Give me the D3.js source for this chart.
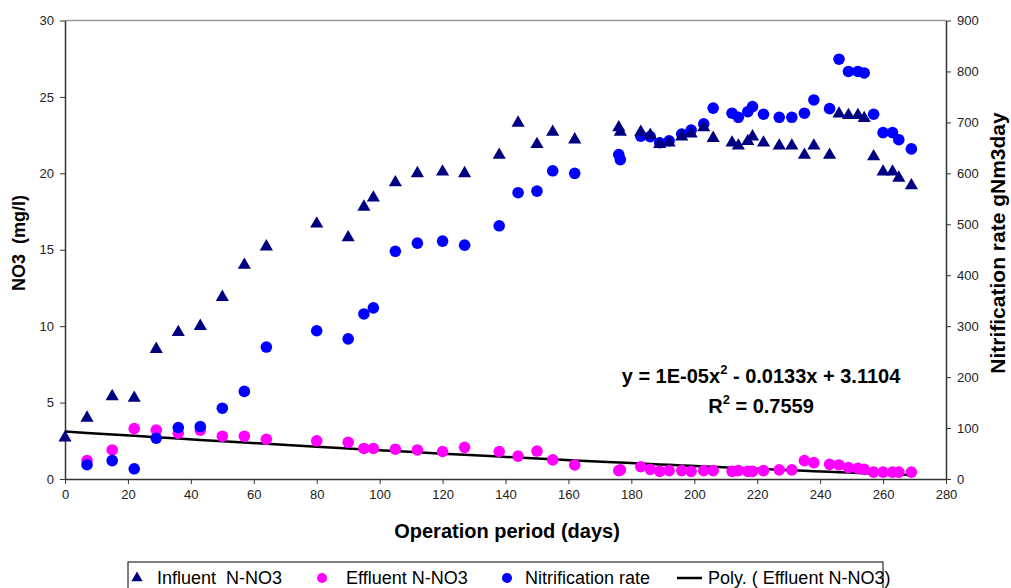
<!DOCTYPE html>
<html>
<head>
<meta charset="utf-8">
<script src="https://cdn.jsdelivr.net/npm/d3@7"></script>
<style>
  body { margin: 0; background: #fff; }
  svg { font-family: "Liberation Sans", Arial, sans-serif; }
  .axis path, .axis line { stroke: #333; }
  .axis text { font-size: 13px; fill: #222; }
</style>
</head>
<body>
<script>
'use-strict';

// days of operation
let days = [0, 7, 15, 22, 29, 36, 43, 50, 57, 64, 80, 90, 95, 98, 105, 112, 120, 127, 138, 144,
  150, 155, 162, 176, 176.5, 183, 186, 189, 192, 196, 199, 203, 206, 212, 214, 217, 218.5, 222,
  227, 231, 235, 238, 243, 246, 249, 252, 254, 257, 260, 263, 265, 269];

// influent N-NO3 (mg/l), left axis
let influent = [2.7, 4.0, 5.4, 5.3, 8.5, 9.6, 10.0, 11.9, 14.0, 15.2, 16.7, 15.8, 17.8, 18.4, 19.4, 20.0,
  20.1, 20.0, 21.2, 23.3, 21.9, 22.7, 22.2, 23.0, 22.7, 22.7, 22.5, 21.9, 22.0, 22.4, 22.6, 23.0,
  22.3, 22.0, 21.8, 22.1, 22.4, 22.0, 21.8, 21.8, 21.2, 21.8, 21.2, 23.9, 23.8, 23.8, 23.6, 21.1,
  20.1, 20.1, 19.7, 19.2];

// effluent N-NO3 (mg/l), left axis (no value at day 0)
let effluent = [null, 1.2, 1.9, 3.3, 3.2, 3.0, 3.2, 2.8, 2.8, 2.6, 2.5, 2.4, 2.0, 2.0, 1.95, 1.9,
  1.8, 2.07, 1.8, 1.5, 1.83, 1.25, 0.92, 0.55, 0.6, 0.8, 0.63, 0.5, 0.55, 0.55, 0.5, 0.55, 0.55,
  0.5, 0.55, 0.5, 0.5, 0.55, 0.6, 0.6, 1.2, 1.07, 0.96, 0.92, 0.75, 0.7, 0.63, 0.45, 0.45, 0.45,
  0.45, 0.45];

// nitrification rate (gN/m3day), right axis (no value at day 0)
let nitrification = [null, 28, 36, 20, 80, 101, 103, 139, 172, 259, 291, 275, 324, 336, 447, 463,
  467, 459, 497, 562, 565, 605, 600, 637, 627, 673, 672, 660, 664, 677, 685, 697, 728, 718, 710,
  721, 731, 716, 710, 710, 718, 744, 727, 824, 800, 800, 797, 716, 680, 680, 666, 648];

// polynomial trend coefficients for effluent (c0 + c1 x + c2 x^2), as printed on the chart
let polyCoef = [3.1104, -0.0133, 0.00001];

let xTicks = d3.range(0, 281, 20);
let yLeftTicks = [0, 5, 10, 15, 20, 25, 30];
let yRightTicks = [0, 100, 200, 300, 400, 500, 600, 700, 800, 900];

let legendItems = ["Influent  N-NO3", "Effluent N-NO3", "Nitrification rate", "Poly. ( Effluent N-NO3)"];

// margin of the chart
let margin = { top: 20.5, left: 65, bottom: 109, right: 65 };
let width = 1011 - margin.left - margin.right,
  height = 588 - margin.top - margin.bottom;

let svg = d3.select("body").append("svg")
  .attr("width", 1011)
  .attr("height", 588);

let g = svg.append("g")
  .attr("transform", "translate(" + margin.left + "," + margin.top + ")");

let x = d3.scaleLinear().domain([0, 280]).range([0, width]);
let yL = d3.scaleLinear().domain([0, 30]).range([height, 0]);
let yR = d3.scaleLinear().domain([0, 900]).range([height, 0]);

// top border
g.append("line")
  .attr("x1", 0).attr("x2", width)
  .attr("y1", 0).attr("y2", 0)
  .attr("stroke", "#999").attr("stroke-width", 1.5);

// axes
g.append("g").attr("class", "axis")
  .attr("transform", "translate(0," + height + ")")
  .call(d3.axisBottom(x).tickValues(xTicks).tickSize(5).tickSizeOuter(0).tickPadding(6));

g.append("g").attr("class", "axis")
  .call(d3.axisLeft(yL).tickValues(yLeftTicks).tickSize(5).tickSizeOuter(0).tickPadding(6));

g.append("g").attr("class", "axis")
  .attr("transform", "translate(" + width + ",0)")
  .call(d3.axisRight(yR).tickValues(yRightTicks).tickSize(5).tickSizeOuter(0).tickPadding(6));

g.selectAll(".axis path").attr("stroke-width", 1.5);

// trend line, from day 0 to the last effluent sample
let poly = (d) => polyCoef[0] + polyCoef[1] * d + polyCoef[2] * d * d;
g.append("path")
  .datum(days)
  .attr("fill", "none")
  .attr("stroke", "#000")
  .attr("stroke-width", 2.5)
  .attr("d", d3.line().x(d => x(d)).y(d => yL(poly(d))));

// effluent points
g.selectAll(".eff")
  .data(days.map((d, i) => [d, effluent[i]]).filter(d => d[1] != null))
  .enter().append("circle")
  .attr("cx", d => x(d[0]))
  .attr("cy", d => yL(d[1]))
  .attr("r", 5.8)
  .attr("fill", "#ff00ff");

// nitrification points
g.selectAll(".nit")
  .data(days.map((d, i) => [d, nitrification[i]]).filter(d => d[1] != null))
  .enter().append("circle")
  .attr("cx", d => x(d[0]))
  .attr("cy", d => yR(d[1]))
  .attr("r", 5.8)
  .attr("fill", "#0000ff");

// influent points
let tri = d3.symbol().type(d3.symbolTriangle).size(75);
g.selectAll(".inf")
  .data(days.map((d, i) => [d, influent[i]]))
  .enter().append("path")
  .attr("d", tri)
  .attr("transform", d => "translate(" + x(d[0]) + "," + yL(d[1]) + ")")
  .attr("fill", "#000080");

// equation text
let eq = g.append("text")
  .attr("x", 696).attr("y", 362.5)
  .attr("text-anchor", "middle")
  .style("font-size", "20px").style("font-weight", "bold");
eq.append("tspan").text("y = 1E-05x");
eq.append("tspan").attr("dy", -9).style("font-size", "13px").text("2");
eq.append("tspan").attr("dy", 9).text(" - 0.0133x + 3.1104");

let r2 = g.append("text")
  .attr("x", 696).attr("y", 392.5)
  .attr("text-anchor", "middle")
  .style("font-size", "20px").style("font-weight", "bold");
r2.append("tspan").text("R");
r2.append("tspan").attr("dy", -9).style("font-size", "13px").text("2");
r2.append("tspan").attr("dy", 9).text(" = 0.7559");

// axis labels
svg.append("text")
  .attr("x", 507).attr("y", 538)
  .attr("text-anchor", "middle")
  .style("font-size", "20px").style("font-weight", "bold")
  .text("Operation period (days)");

svg.append("text")
  .attr("transform", "translate(25,243) rotate(-90)")
  .attr("text-anchor", "middle")
  .attr("xml:space", "preserve")
  .style("font-size", "18px").style("font-weight", "bold")
  .text("NO3  (mg/l)");

svg.append("text")
  .attr("transform", "translate(1005,243) rotate(-90)")
  .attr("text-anchor", "middle")
  .style("font-size", "21px").style("font-weight", "bold")
  .text("Nitrification rate gNm3day");

// legend
let lg = svg.append("g").attr("transform", "translate(128,562)");
lg.append("rect")
  .attr("width", 755).attr("height", 40)
  .attr("fill", "#fff").attr("stroke", "#000").attr("stroke-width", 1);

let legendX = [9, 194, 379, 561];
let legendTextX = [29, 218, 397, 580];
lg.append("path").attr("d", d3.symbol().type(d3.symbolTriangle).size(55))
  .attr("transform", "translate(" + legendX[0] + ",16)").attr("fill", "#000080");
lg.append("circle").attr("cx", legendX[1]).attr("cy", 16).attr("r", 5).attr("fill", "#ff00ff");
lg.append("circle").attr("cx", legendX[2]).attr("cy", 16).attr("r", 5).attr("fill", "#0000ff");
lg.append("line").attr("x1", legendX[3] - 12).attr("x2", legendX[3] + 13)
  .attr("y1", 16).attr("y2", 16).attr("stroke", "#000").attr("stroke-width", 2.5);

lg.selectAll(".ltext")
  .data(legendItems)
  .enter().append("text")
  .attr("x", (d, i) => legendTextX[i])
  .attr("y", 22)
  .attr("xml:space", "preserve")
  .style("font-size", "18px")
  .text(d => d);
</script>
</body>
</html>
